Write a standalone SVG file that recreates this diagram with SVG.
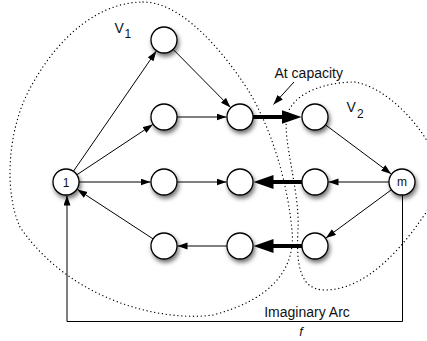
<svg xmlns="http://www.w3.org/2000/svg" width="427" height="341" viewBox="0 0 427 341">
<style>
.node circle{fill:#fff;stroke:#000;stroke-width:1.3;filter:url(#sh)}
.lbl{font-family:"Liberation Sans",Arial,sans-serif;fill:#111}
.e{stroke:#000;stroke-width:1;fill:none;marker-end:url(#ah)}
.t{stroke:#000;stroke-width:4;fill:none;marker-end:url(#ahT)}
.dot{fill:none;stroke:#000;stroke-width:1.3;stroke-dasharray:0.1 3.8;stroke-linecap:round}
</style>
<defs>
<filter id="sh" x="-50%" y="-50%" width="200%" height="200%">
<feDropShadow dx="1.5" dy="3" stdDeviation="2.2" flood-color="#000" flood-opacity="0.55"/>
</filter>
<marker id="ah" markerUnits="userSpaceOnUse" markerWidth="11" markerHeight="8" refX="10" refY="3.5" orient="auto">
<path d="M0,0 L10,3.5 L0,7 z" fill="#000"/>
</marker>
<marker id="ahT" markerUnits="userSpaceOnUse" markerWidth="21" markerHeight="15" refX="6" refY="7" orient="auto">
<path d="M0,0 L20,7 L0,14 z" fill="#000"/>
</marker>
</defs>
<g id="regions">
<path class="dot" d="M143,2 C175,2 210,35 240,78 C260,105 285,160 292,230 C296,270 270,300 213,315 C160,322 70,300 20,227 C5,195 5,130 33,83 C60,35 100,2 143,2 Z"/>
<path class="dot" d="M355,82 C330,82 295,90 287,115 C282,140 300,190 298,230 C296,265 300,290 325,290 C365,290 405,250 440,190 C450,160 400,90 355,82 Z"/>
</g>
<g id="connectors">
<line class="e" x1="73.4" y1="171.3" x2="156.3" y2="51.1"/>
<line class="e" x1="76.8" y1="174.8" x2="152.8" y2="124.5"/>
<line class="e" x1="79" y1="182" x2="150.5" y2="182"/>
<line class="e" x1="153.1" y1="238.9" x2="77.3" y2="189.4"/>
<line class="e" x1="173.1" y1="49.3" x2="230.5" y2="107.4"/>
<line class="e" x1="177" y1="117" x2="226.5" y2="117"/>
<line class="t" x1="253" y1="117" x2="287.5" y2="117"/>
<line class="e" x1="325.4" y1="124.8" x2="391.2" y2="173.9"/>
<line class="e" x1="389" y1="182" x2="328.5" y2="182"/>
<line class="t" x1="302" y1="182" x2="267.5" y2="182"/>
<line class="e" x1="177" y1="182" x2="226.5" y2="182"/>
<line class="e" x1="391.5" y1="189.7" x2="325.9" y2="238"/>
<line class="t" x1="302" y1="246" x2="267.5" y2="246"/>
<line class="e" x1="227" y1="246" x2="177.5" y2="246"/>
<path class="e" d="M402.5,195 L402.5,321.5 L67,321.5 L67,195.5"/>
<line class="e" x1="294" y1="82" x2="273.5" y2="104.5"/>
</g>
<g id="n1" class="node"><circle cx="66" cy="182" r="13"/><text class="lbl" x="66" y="186.5" font-size="12" text-anchor="middle">1</text></g>
<g id="nT" class="node"><circle cx="164" cy="40" r="13"/></g>
<g id="nA2" class="node"><circle cx="164" cy="117" r="13"/></g>
<g id="nB2" class="node"><circle cx="240" cy="117" r="13"/></g>
<g id="nC2" class="node"><circle cx="315" cy="117" r="13"/></g>
<g id="nA3" class="node"><circle cx="164" cy="182" r="13"/></g>
<g id="nB3" class="node"><circle cx="240" cy="182" r="13"/></g>
<g id="nC3" class="node"><circle cx="315" cy="182" r="13"/></g>
<g id="nM" class="node"><circle cx="402" cy="182" r="13"/><text class="lbl" x="402" y="186" font-size="12" text-anchor="middle">m</text></g>
<g id="nA4" class="node"><circle cx="164" cy="246" r="13"/></g>
<g id="nB4" class="node"><circle cx="240" cy="246" r="13"/></g>
<g id="nC4" class="node"><circle cx="315" cy="246" r="13"/></g>
<g id="labels">
<text class="lbl" x="114.5" y="33" font-size="14">V</text>
<text class="lbl" x="124.5" y="37.5" font-size="12">1</text>
<text class="lbl" x="346.5" y="112" font-size="14">V</text>
<text class="lbl" x="357" y="118" font-size="12">2</text>
<text class="lbl" x="274.5" y="78" font-size="14">At capacity</text>
<text class="lbl" x="307" y="316.5" font-size="14" text-anchor="middle">Imaginary Arc</text>
<text class="lbl" x="301" y="335.5" font-size="13" font-style="italic" text-anchor="middle">f</text>
</g>
</svg>
